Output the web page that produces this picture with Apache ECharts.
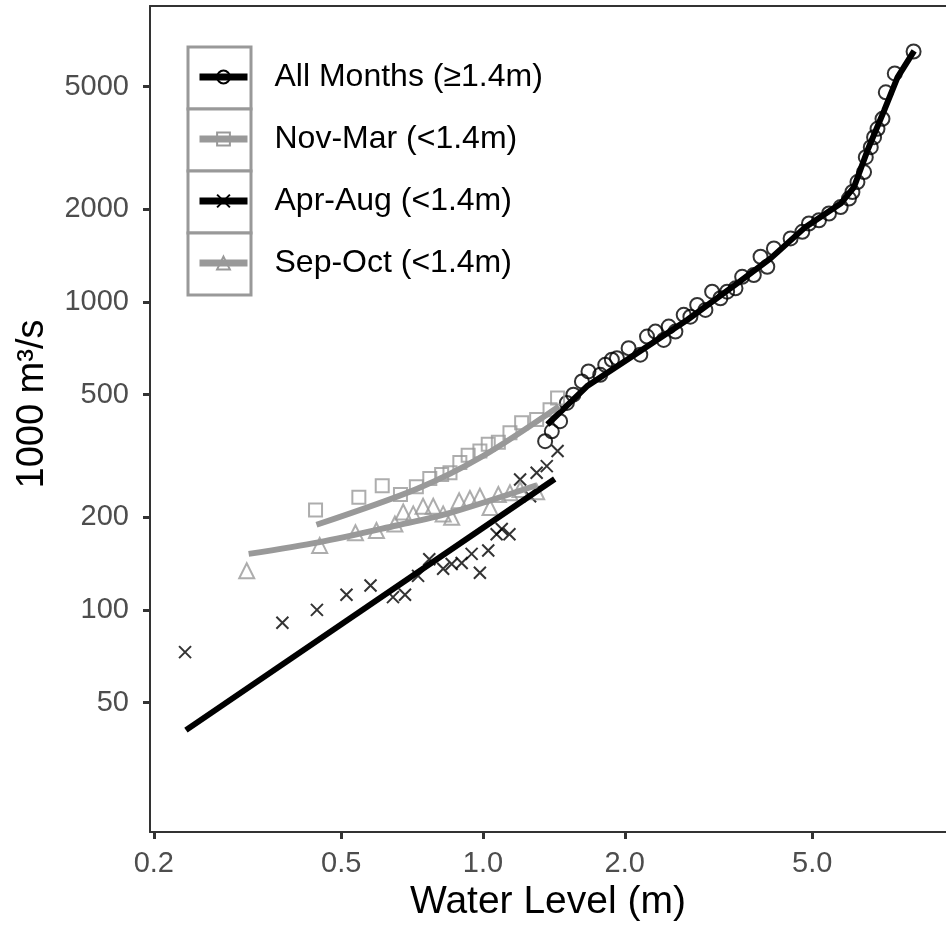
<!DOCTYPE html>
<html>
<head>
<meta charset="utf-8">
<script src="https://cdn.jsdelivr.net/npm/echarts@6/dist/echarts.min.js"></script>
<style>
html, body { margin: 0; padding: 0; background: #fff; overflow: hidden; }
#chart { width: 946px; height: 927px; }
</style>
</head>
<body>
<div id="chart"></div>
<script>
var xTicks = [0.2, 0.5, 1, 2, 5];
var yTicks = [50, 100, 200, 500, 1000, 2000, 5000];
var seriesNames = ['All Months (≥1.4m)', 'Nov-Mar (<1.4m)', 'Apr-Aug (<1.4m)', 'Sep-Oct (<1.4m)'];

// [water level (m), flow (1000 m3/s)]
var allMonthsPoints = [
    [1.355, 353], [1.40, 380], [1.458, 410], [1.507, 470], [1.556, 500], [1.622, 552],
    [1.675, 595], [1.774, 580], [1.818, 625], [1.878, 649], [1.925, 657], [2.038, 708],
    [2.158, 674], [2.230, 772], [2.323, 801], [2.419, 753], [2.480, 832], [2.562, 801],
    [2.668, 908], [2.757, 896], [2.850, 978], [2.967, 942], [3.066, 1080], [3.193, 1028],
    [3.299, 1080], [3.437, 1107], [3.551, 1207], [3.759, 1223], [3.885, 1402], [4.015, 1301],
    [4.147, 1492], [4.500, 1608], [4.765, 1689], [4.922, 1798], [5.170, 1842], [5.429, 1937],
    [5.748, 2034], [5.987, 2166], [6.088, 2275], [6.239, 2451], [6.444, 2641], [6.499, 2953],
    [6.660, 3181], [6.768, 3428], [6.882, 3648], [7.052, 3931], [7.167, 4793], [7.489, 5522],
    [8.210, 6506]
];
var allMonthsFit = [
    [1.37, 400], [1.662, 532], [2.123, 682], [2.713, 874], [3.466, 1149], [4.080, 1385],
    [4.843, 1753], [5.748, 2086], [6.136, 2361], [6.553, 3104], [7.108, 4182], [7.589, 5358],
    [8.233, 6539]
];

var novMarPoints = [
    [0.441, 211], [0.545, 232], [0.611, 253], [0.668, 237], [0.722, 251], [0.771, 267],
    [0.817, 275], [0.851, 279], [0.893, 301], [0.930, 318], [0.985, 328], [1.026, 345],
    [1.078, 350], [1.141, 376], [1.208, 405], [1.30, 415], [1.388, 447], [1.44, 488]
];
var novMarFit = [[0.443, 189], [0.723, 247], [1.0, 316], [1.45, 458]];

var aprAugPoints = [
    [0.233, 72.9], [0.375, 90.8], [0.444, 100], [0.513, 112], [0.577, 120], [0.644, 110],
    [0.683, 112], [0.728, 129], [0.769, 146], [0.823, 136], [0.858, 141], [0.901, 142],
    [0.946, 152], [0.985, 132], [1.026, 156], [1.069, 176], [1.096, 183], [1.138, 176],
    [1.199, 265], [1.259, 234], [1.30, 279], [1.366, 293], [1.44, 328]
];
var aprAugFit = [[0.234, 40.7], [1.42, 266]];

var sepOctPoints = [
    [0.315, 134], [0.450, 162], [0.536, 178], [0.594, 181], [0.650, 190], [0.677, 208],
    [0.711, 205], [0.746, 217], [0.784, 217], [0.823, 205], [0.858, 200], [0.890, 226],
    [0.938, 230], [0.985, 234], [1.035, 215], [1.078, 237], [1.141, 240], [1.199, 246],
    [1.30, 242]
];
var sepOctFit = [[0.318, 152], [0.450, 166], [0.655, 188], [0.837, 205], [1.30, 254]];

var font = "'Liberation Sans', Arial, sans-serif";
var black = '#000000';
var grey = '#999999';
var axisColor = '#333333';
var crossPath = 'path://M0,0L10,10M10,0L0,10';
var clear = 'rgba(0,0,0,0)';
var xMin = 0.1963, xMax = 9.62;

function fitLine(name, data, color, smooth, symbol) {
    return {
        name: name,
        type: 'line',
        data: data,
        z: 3,
        symbol: symbol, // only shows in the legend key
        showSymbol: false,
        smooth: smooth,
        lineStyle: { color: color, width: 6 },
        itemStyle: { color: clear, borderColor: color, borderWidth: 2 },
        emphasis: { disabled: true }
    };
}

function points(name, data, color, symbol, size) {
    return {
        name: name,
        type: 'scatter',
        data: data,
        z: 2,
        symbol: symbol,
        symbolSize: size,
        itemStyle: { color: clear, borderColor: color, borderWidth: 2 },
        emphasis: { disabled: true }
    };
}

function legendItem(name, color) {
    return {
        name: name,
        itemStyle: { color: clear, borderColor: color, borderWidth: 2 },
        lineStyle: { color: color, width: 7 }
    };
}

var chart = echarts.init(document.getElementById('chart'));

var option = {
    animation: false,
    textStyle: { fontFamily: font },
    grid: { left: 150, top: 6, right: 0, bottom: 95 },
    xAxis: [{
        type: 'log',
        logBase: 10,
        min: xMin,
        max: xMax,
        name: 'Water Level (m)',
        nameLocation: 'middle',
        nameGap: 42,
        nameTextStyle: { fontSize: 39, color: black, fontFamily: font },
        axisLine: { lineStyle: { color: axisColor, width: 2 } },
        axisTick: { customValues: xTicks, length: 7, lineStyle: { color: axisColor, width: 3 } },
        axisLabel: {
            customValues: xTicks,
            margin: 17,
            fontSize: 29,
            color: '#4d4d4d',
            fontFamily: font,
            formatter: function (v) { return Number(v).toFixed(1); }
        },
        splitLine: { show: false },
        minorTick: { show: false }
    }, {
        // top panel border
        type: 'log',
        logBase: 10,
        position: 'top',
        min: xMin,
        max: xMax,
        axisLine: { lineStyle: { color: axisColor, width: 2 } },
        axisTick: { show: false },
        axisLabel: { show: false },
        splitLine: { show: false }
    }],
    yAxis: {
        type: 'log',
        logBase: 10,
        min: 19.0,
        max: 9142,
        name: '1000 m³/s',
        nameLocation: 'middle',
        nameGap: 98,
        nameTextStyle: { fontSize: 38, color: black, fontFamily: font, padding: [0, 0, 0, 30] },
        axisLine: { lineStyle: { color: axisColor, width: 2 } },
        axisTick: { customValues: yTicks, length: 7, lineStyle: { color: axisColor, width: 3 } },
        axisLabel: {
            customValues: yTicks,
            margin: 21,
            fontSize: 29,
            color: '#4d4d4d',
            fontFamily: font,
            formatter: function (v) { return String(Math.round(v)); }
        },
        splitLine: { show: false }
    },
    legend: {
        orient: 'vertical',
        left: 196,
        top: 57,
        padding: 0,
        itemWidth: 48,
        itemHeight: 16,
        itemGap: 22,
        selectedMode: false,
        z: 5,
        textStyle: { fontSize: 32, color: black, fontFamily: font, lineHeight: 40, padding: [0, 0, 0, 22] },
        data: [
            legendItem(seriesNames[0], black),
            legendItem(seriesNames[1], grey),
            legendItem(seriesNames[2], black),
            legendItem(seriesNames[3], grey)
        ]
    },
    graphic: seriesNames.map(function (n, i) {
        return {
            type: 'rect',
            z: 1,
            shape: { x: 188, y: 47 + 62 * i, width: 63, height: 62 },
            style: { fill: '#ffffff', stroke: grey, lineWidth: 3 }
        };
    }),
    series: [
        fitLine(seriesNames[0], allMonthsFit, black, false, 'circle'),
        fitLine(seriesNames[1], novMarFit, grey, 0.3, 'rect'),
        fitLine(seriesNames[2], aprAugFit, black, false, crossPath),
        fitLine(seriesNames[3], sepOctFit, grey, 0.3, 'triangle'),
        points(seriesNames[0], allMonthsPoints, black, 'circle', 14),
        points(seriesNames[1], novMarPoints, grey, 'rect', 13),
        points(seriesNames[2], aprAugPoints, black, crossPath, 12),
        points(seriesNames[3], sepOctPoints, grey, 'triangle', 15)
    ]
};

chart.setOption(option);
</script>
</body>
</html>
